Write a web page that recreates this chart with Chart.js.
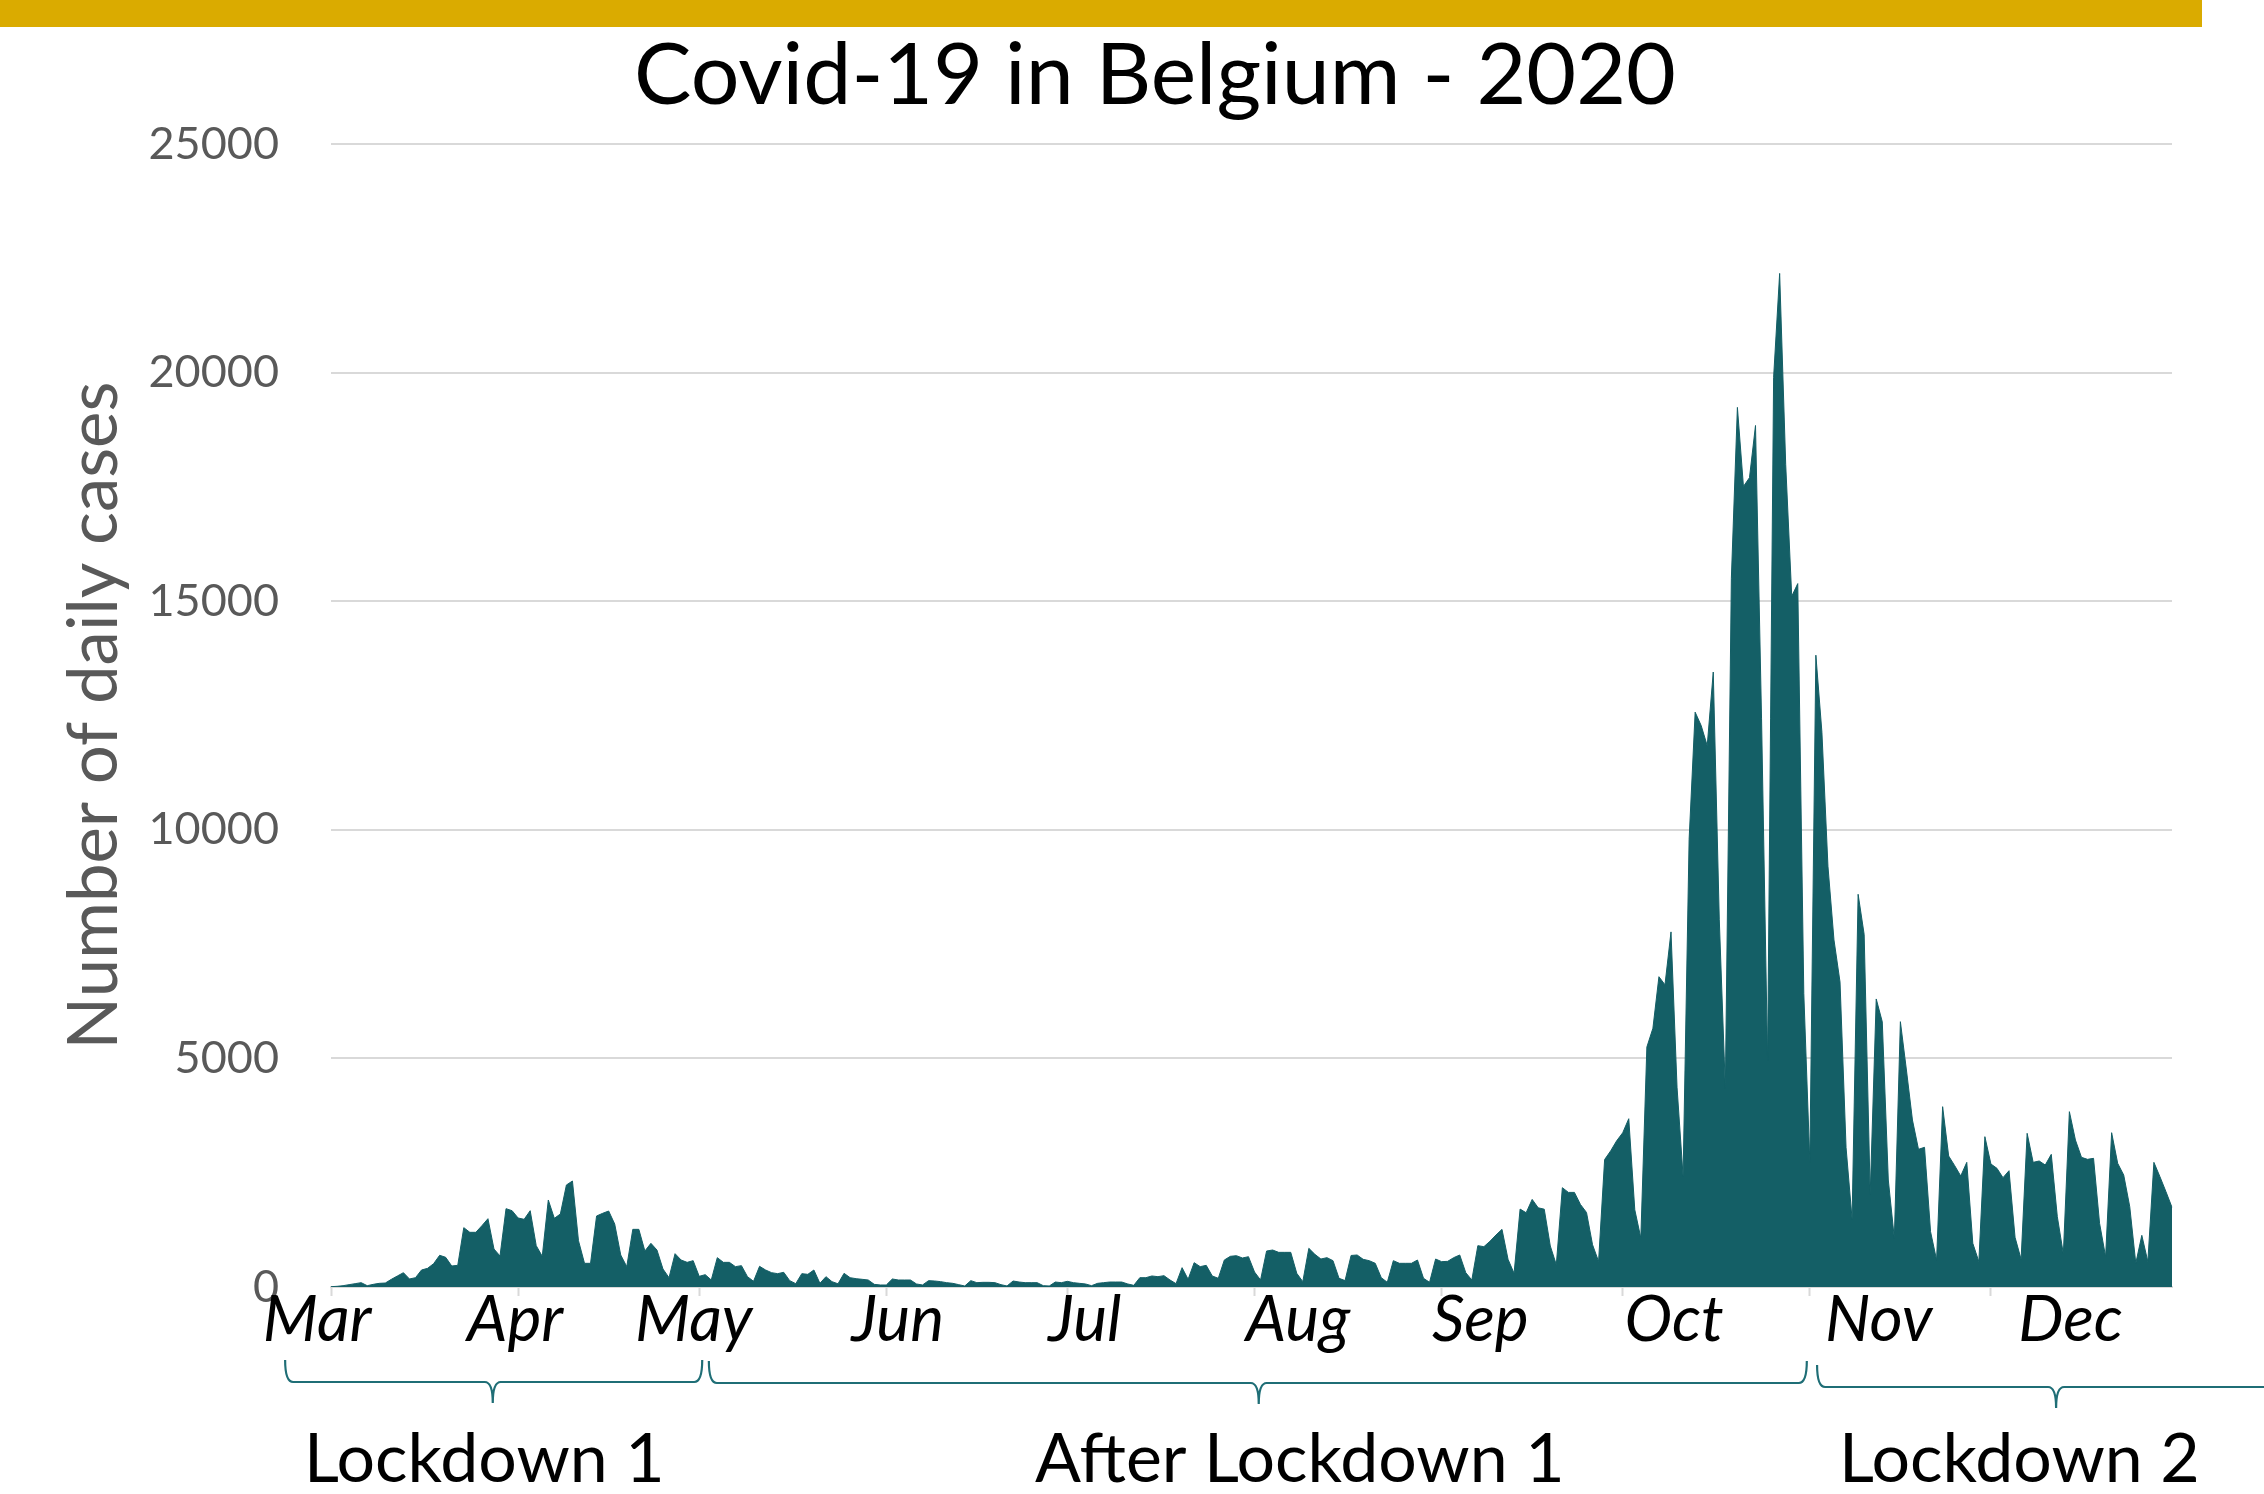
<!DOCTYPE html>
<html>
<head>
<meta charset="utf-8">
<script src="https://cdn.jsdelivr.net/npm/chart.js@4/dist/chart.umd.min.js"></script>
<style>
  html, body { margin: 0; padding: 0; background: #ffffff; }
  #wrap { width: 2264px; height: 1494px; position: relative; }
</style>
</head>
<body>
<div id="wrap"><canvas id="c" width="2264" height="1494"></canvas></div>
<script>
// ---------- DATA ----------
const chartTitle = 'Covid-19 in Belgium - 2020';
const yAxisTitle = 'Number of daily cases';
const startDate = '2020-03-01';
const monthNames = ['Mar', 'Apr', 'May', 'Jun', 'Jul', 'Aug', 'Sep', 'Oct', 'Nov', 'Dec'];
const yTickValues = [0, 5000, 10000, 15000, 20000, 25000];

// daily confirmed cases, 1 Mar 2020 .. 31 Dec 2020
const dailyCases = [
  7, 15, 29, 51, 73, 95, 29, 58, 80, 87,
  168, 241, 313, 175, 204, 372, 408, 510, 693, 649,
  459, 474, 1298, 1196, 1196, 1341, 1494, 831, 678, 1713,
  1669, 1509, 1480, 1669, 904, 671, 1903, 1502, 1597, 2231,
  2318, 1013, 518, 518, 1553, 1611, 1662, 1378, 700, 445,
  1261, 1261, 787, 955, 809, 394, 204, 729, 590, 539,
  576, 233, 270, 153, 642, 539, 539, 445, 467, 226,
  124, 452, 372, 313, 292, 321, 139, 73, 292, 277,
  372, 80, 226, 117, 70, 299, 204, 182, 168, 153,
  58, 44, 44, 175, 153, 153, 153, 66, 44, 139,
  131, 117, 95, 80, 51, 22, 139, 95, 102, 102,
  95, 51, 22, 131, 109, 95, 95, 95, 29, 22,
  109, 95, 124, 95, 80, 66, 29, 80, 95, 109,
  109, 109, 66, 36, 204, 204, 241, 226, 248, 153,
  73, 423, 168, 532, 445, 474, 241, 190, 590, 671,
  685, 634, 663, 328, 153, 787, 809, 758, 758, 758,
  299, 117, 846, 714, 612, 642, 576, 190, 140, 690,
  700, 605, 576, 518, 204, 102, 576, 518, 518, 518,
  590, 190, 102, 612, 554, 561, 642, 700, 313, 153,
  904, 882, 999, 1137, 1261, 605, 299, 1704, 1624, 1916,
  1732, 1702, 897, 488, 2172, 2069, 2069, 1805, 1630, 925,
  560, 2787, 2977, 3198, 3373, 3681, 1688, 1072, 5248, 5658,
  6787, 6610, 7767, 4368, 2421, 9790, 12573, 12279, 11840, 13451,
  8031, 4340, 15503, 19239, 17511, 17701, 18843, 12426, 4954, 19897,
  22169, 17994, 15107, 15385, 6420, 2727, 13819, 12133, 9204, 7592,
  6669, 3051, 1483, 8589, 7710, 2025, 6300, 5800, 2340, 1064,
  5803, 4746, 3652, 3011, 3055, 1210, 590, 3944, 2865, 2654,
  2428, 2726, 955, 554, 3288, 2690, 2595, 2391, 2544, 1086,
  605, 3361, 2726, 2756, 2668, 2901, 1538, 722, 3835, 3215,
  2836, 2792, 2814, 1392, 663, 3375, 2705, 2449, 1757, 518,
  1130, 554, 2726, 2413, 2085, 1742
];

// period annotations below the axis
const periodNames = ['Lockdown 1', 'After Lockdown 1', 'Lockdown 2'];

// category labels: one per day
const categories = [];
(function () {
  const d0 = new Date(startDate + 'T00:00:00Z');
  for (let i = 0; i < dailyCases.length; i++) {
    const d = new Date(d0.getTime() + i * 86400000);
    categories.push(d.toISOString().slice(0, 10));
  }
})();
const isMonthStart = i => categories[i] && categories[i].slice(8, 10) === '01';

// ---------- LAYOUT (styling only) ----------
const FONT = 'Lato, "Open Sans", sans-serif';
const GREY = '#595959';
const GRID = '#D9D9D9';
const TEAL = '#145F66';
const BRACE = '#1F6E76';
// centre of each month name, in days from 1 Mar (text boxes were placed by hand)
const monthLabelDay = [-2.3, 30.5, 60.1, 93.9, 124.9, 160.2, 190.4, 222.5, 256.4, 288.2];
// braces: start day, end day, tip day, vertical shift
const braceLayout = [
  { from: -7.6, to: 61.5, tip: 26.8, dy: 0 },
  { from: 62.6, to: 244.5, tip: 153.7, dy: 1 },
  { from: 246.2, to: 335, tip: 285.8, dy: 5 }
];
const periodLabelDay = [25.4, 160.5, 279.7];

const overlay = {
  id: 'overlay',
  beforeDraw(chart) {
    const ctx = chart.ctx;
    ctx.save();
    ctx.fillStyle = '#DAAB00';
    ctx.fillRect(0, 0, 2202, 27);
    // title
    ctx.fillStyle = '#000000';
    ctx.font = '86px ' + FONT;
    ctx.textAlign = 'center';
    ctx.textBaseline = 'alphabetic';
    ctx.fillText(chartTitle, chart.width / 2 + 23, 104);
    ctx.restore();
  },
  afterDraw(chart) {
    const ctx = chart.ctx;
    const xs = chart.scales.x;
    const n = categories.length - 1;
    const px = d => xs.getPixelForDecimal(d / n);
    const base = xs.top;
    ctx.save();
    // month names
    ctx.fillStyle = '#000000';
    ctx.font = 'italic 64px ' + FONT;
    ctx.textAlign = 'center';
    ctx.textBaseline = 'alphabetic';
    monthNames.forEach((m, k) => ctx.fillText(m, px(monthLabelDay[k]), base + 54));
    // braces
    ctx.strokeStyle = BRACE;
    ctx.lineWidth = 2.2;
    braceLayout.forEach(b => {
      const x0 = px(b.from), x1 = px(b.to), xt = px(b.tip);
      const top = base + 73 + b.dy, mid = base + 95 + b.dy, bot = base + 116 + b.dy;
      const r = 8;
      ctx.beginPath();
      ctx.moveTo(x0, top);
      ctx.quadraticCurveTo(x0, mid, x0 + r, mid);
      ctx.lineTo(xt - r, mid);
      ctx.quadraticCurveTo(xt, mid, xt, bot);
      ctx.quadraticCurveTo(xt, mid, xt + r, mid);
      ctx.lineTo(x1 - r, mid);
      ctx.quadraticCurveTo(x1, mid, x1, top);
      ctx.stroke();
    });
    // period names
    ctx.fillStyle = '#000000';
    ctx.font = '68px ' + FONT;
    periodNames.forEach((p, k) => ctx.fillText(p, px(periodLabelDay[k]), base + 195));
    ctx.restore();
  }
};

new Chart(document.getElementById('c'), {
  type: 'line',
  data: {
    labels: categories,
    datasets: [{
      label: 'Daily cases',
      data: dailyCases,
      borderColor: TEAL,
      backgroundColor: TEAL,
      borderWidth: 1,
      fill: 'origin',
      pointRadius: 0,
      tension: 0
    }]
  },
  options: {
    responsive: false,
    animation: false,
    devicePixelRatio: 1,
    layout: { padding: { left: 0, right: 92, top: 144, bottom: 0 } },
    plugins: {
      legend: { display: false },
      tooltip: { enabled: false },
      title: { display: false }
    },
    scales: {
      x: {
        type: 'category',
        offset: false,
        afterFit: s => { s.height = 207; },
        ticks: { display: false, autoSkip: false },
        grid: {
          display: true,
          drawOnChartArea: false,
          drawTicks: true,
          tickLength: 9,
          tickWidth: 2,
          tickColor: c => (isMonthStart(c.index) ? GRID : 'rgba(0,0,0,0)'),
          color: c => (isMonthStart(c.index) ? GRID : 'rgba(0,0,0,0)')
        },
        border: { display: true, color: GRID, width: 2 }
      },
      y: {
        min: 0,
        max: 25000,
        afterFit: s => { s.width = 331; },
        afterBuildTicks: s => { s.ticks = yTickValues.map(v => ({ value: v })); },
        ticks: {
          color: GREY,
          padding: 52,
          font: { family: FONT, size: 45 },
          callback: v => String(v)
        },
        grid: { color: GRID, lineWidth: 2, drawTicks: false },
        border: { display: false },
        title: {
          display: true,
          text: yAxisTitle,
          color: GREY,
          font: { family: FONT, size: 69 },
          padding: { top: 53, bottom: 0 }
        }
      }
    }
  },
  plugins: [overlay]
});
</script>
</body>
</html>
